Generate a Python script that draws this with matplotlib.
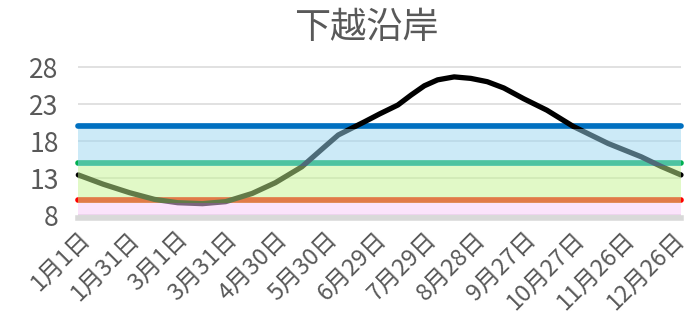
import numpy as np
import matplotlib
matplotlib.use("Agg")
import matplotlib.pyplot as plt

plt.rcParams['font.family'] = ['Noto Sans CJK JP', 'DejaVu Sans']

# data (day of year, temperature)
days = [0, 15, 31, 46, 60, 75, 89, 105, 119, 135, 149, 157, 165, 173, 182,
        193, 201, 209, 217, 227, 237, 247, 257, 269, 283, 299, 320, 340,
        352, 364]
temps = [13.45, 12.2, 11.05, 10.15, 9.7, 9.57, 9.84, 10.95, 12.4, 14.55,
         17.3, 18.85, 19.75, 20.65, 21.7, 22.9, 24.25, 25.5, 26.3, 26.7,
         26.5, 26.05, 25.2, 23.75, 22.2, 20.0, 17.7, 15.9, 14.6, 13.45]
tick_days = [0, 30, 59, 89, 119, 149, 179, 209, 239, 269, 299, 329, 359]
tick_labels = ['1月1日', '1月31日', '3月1日', '3月31日', '4月30日', '5月30日',
               '6月29日', '7月29日', '8月28日', '9月27日', '10月27日',
               '11月26日', '12月26日']
levels = [10, 15, 20]
level_colors = ['#FF0000', '#00B050', '#0070C0']
band_colors = ['#F9C9F9', '#C5F591', '#9BD7F1']
y_ticks = [8, 13, 18, 23, 28]
x_end = 364

fig = plt.figure(figsize=(6.88, 3.24), dpi=100)
ax = fig.add_axes([78.3 / 688, 0.3287, 602.7 / 688, 0.4728])
ax.set_xlim(0, x_end)
ax.set_ylim(7.7, 28.4)

gray = '#595959'
for y in y_ticks:
    ax.axhline(y, color='#d9d9d9', lw=1.1, zorder=1)

lw = 4.1
# half line width in data units, bands sit just under each level line
h = (lw / 72 * 100) / 2 / 7.4

for lev, c in zip(levels, level_colors):
    ax.plot([0, x_end], [lev, lev], color=c, lw=lw, solid_capstyle='round',
            zorder=2, clip_on=False)

ax.plot(days, temps, color='black', lw=3.8, solid_capstyle='round',
        solid_joinstyle='round', zorder=2.5, clip_on=False)

lows = [8, 10 - h, 15 - h]
highs = [10 - h, 15 - h, 20 - h]
for lo, hi, c in zip(lows, highs, band_colors):
    ax.fill_between([0, x_end], lo, hi, color=c, alpha=0.5, lw=0, zorder=3)

for s in ['top', 'right', 'left']:
    ax.spines[s].set_visible(False)
ax.spines['bottom'].set_color('#d9d9d9')
ax.spines['bottom'].set_linewidth(4)
ax.spines['bottom'].set_zorder(5)

ax.set_yticks(y_ticks)
ax.set_yticklabels([str(v) for v in y_ticks], fontsize=19, color=gray)
ax.tick_params(axis='y', length=0, pad=14)
ax.set_xticks(tick_days)
ax.set_xticklabels(tick_labels, fontsize=17, color=gray, rotation=45,
                   ha='right', va='top', rotation_mode='anchor')
ax.tick_params(axis='x', length=0, pad=7)

fig.text(366 / 688, 1 - 28 / 324, '下越沿岸', fontsize=26, color=gray,
         ha='center', va='center')

fig.savefig('out.png', dpi=100)
